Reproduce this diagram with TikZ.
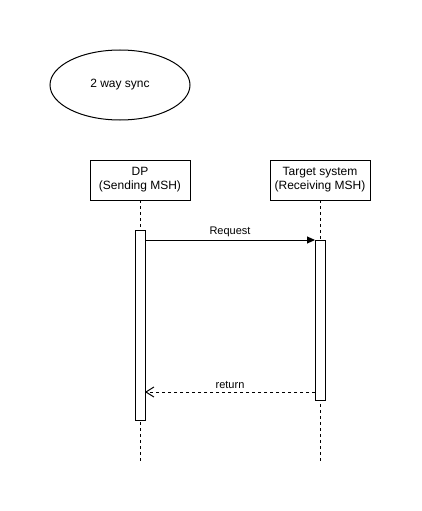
\documentclass[tikz,border=0pt]{standalone}
\usepackage{fontspec}
\setmainfont{Liberation Sans}
\usetikzlibrary{arrows.meta,shapes.geometric}
\begin{document}
\begin{tikzpicture}[x=1pt,y=-1pt,
  every node/.style={inner sep=0pt, outer sep=0pt, font=\fontsize{12}{14}\selectfont},
  head/.style={draw, line width=1pt, minimum width=100pt, minimum height=40pt, align=center},
  act/.style={draw, line width=1pt, fill=white, minimum width=10pt, anchor=north},
  life/.style={line width=1pt, dash pattern=on 3pt off 3pt},
  msg/.style={line width=1pt, -{Triangle[length=8pt,width=7pt]}},
  ret/.style={line width=1pt, dash pattern=on 3pt off 3pt, -{Straight Barb[length=8pt,width=10pt]}},
  lbl/.style={font=\fontsize{11}{13}\selectfont}]
\useasboundingbox (0,0) rectangle (421,511);
\fill[white] (0,0) rectangle (421,511);
\node[draw, ellipse, line width=1pt, minimum width=140pt, minimum height=70pt] (title) at (120,85) {2 way sync};
\node[head] (dp) at (140,180) {DP\\(Sending MSH)};
\node[head] (ts) at (320,180) {Target system\\(Receiving MSH)};
\coordinate (dpend) at (140,461);
\coordinate (tsend) at (320,461);
\draw[life] (dp.south) -- (dpend);
\draw[life] (ts.south) -- (tsend);
\node[act, minimum height=190pt] (dpact) at (140,230) {};
\node[act, minimum height=160pt] (tsact) at (320,240) {};
\draw[msg] (dpact.east |- tsact.north) -- node[lbl, above=3pt] (req) {Request} (tsact.north west);
\draw[ret] ([yshift=8pt]tsact.south west) -- node[lbl, above=3pt] (rl) {return} ([yshift=8pt]tsact.south west -| dpact.east);
\end{tikzpicture}
\end{document}
